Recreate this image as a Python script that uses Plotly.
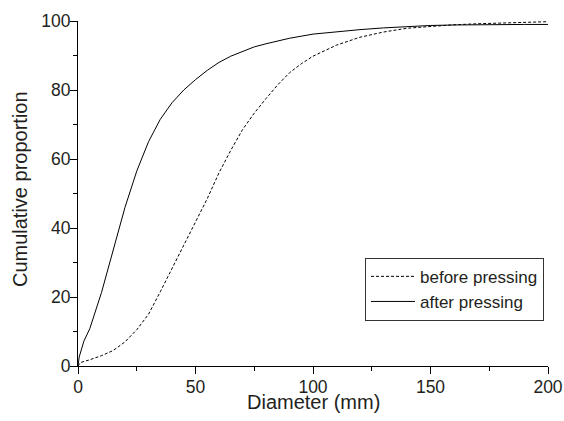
import plotly.graph_objects as go

diameter_before = [0, 1, 5, 10, 15, 20, 25, 30, 35, 40, 45, 50, 55, 60, 65, 70, 75, 80, 85, 90, 95, 100,
                   110, 120, 130, 140, 150, 160, 170, 180, 190, 200]
before_pressing = [0, 1.0, 1.8, 3.0, 4.5, 7.0, 10.5, 15.0, 21.5, 28.3, 34.8, 41.5, 48.5, 56.0, 62.5, 68.5,
                   73.3, 77.5, 81.5, 85.0, 87.6, 89.8, 93.0, 95.3, 96.8, 97.9, 98.5, 98.9, 99.2, 99.4, 99.6, 99.8]

diameter_after = [0, 0.5, 2.5, 5, 10, 15, 20, 25, 30, 35, 40, 45, 50, 55, 60, 65, 70, 75, 80, 90, 100,
                  110, 120, 130, 140, 150, 160, 170, 180, 190, 200]
after_pressing = [0, 2.6, 7.2, 10.8, 21.3, 33.3, 46.0, 56.5, 65.0, 71.5, 76.3, 80.0, 83.0, 85.7, 88.0,
                  89.8, 91.2, 92.5, 93.4, 95.0, 96.2, 96.9, 97.5, 98.0, 98.4, 98.7, 98.85, 98.95, 99.0, 99.0, 99.0]

x_title = "Diameter (mm)"
y_title = "Cumulative proportion"

font_family = "Liberation Sans, Arial, sans-serif"
text_color = "#231f20"

fig_w, fig_h = 564, 421
plot_left, plot_right, plot_top, plot_bottom = 77.5, 548, 20.7, 365.7
pw = plot_right - plot_left
ph = plot_bottom - plot_top

fig = go.Figure()
fig.add_trace(go.Scatter(x=diameter_before, y=before_pressing, mode="lines", name="before pressing",
                         line=dict(color="black", width=1, dash="3px,2px")))
fig.add_trace(go.Scatter(x=diameter_after, y=after_pressing, mode="lines", name="after pressing",
                         line=dict(color="black", width=1)))

axis_common = dict(
    showline=True, linecolor="black", linewidth=1.2,
    ticks="outside", ticklen=7, tickwidth=1, tickcolor="black",
    showgrid=False, zeroline=False, mirror=False, automargin=False,
    ticklabeloverflow="allow",
    tickfont=dict(size=17.5, color=text_color, family=font_family),
)

fig.update_xaxes(range=[0, 200], tickvals=[0, 50, 100, 150, 200], ticklabelstandoff=-2,
                 minor=dict(tickvals=[25, 75, 125, 175], ticklen=4, ticks="outside", tickcolor="black", tickwidth=1),
                 **axis_common)
fig.update_yaxes(range=[0, 100], tickvals=[0, 20, 40, 60, 80, 100], ticklabelstandoff=-4,
                 minor=dict(tickvals=[10, 30, 50, 70, 90], ticklen=4, ticks="outside", tickcolor="black", tickwidth=1),
                 **axis_common)

fig.add_annotation(text=x_title, xref="paper", yref="paper", x=0.5, y=(plot_bottom - 402) / ph,
                   xanchor="center", yanchor="middle", showarrow=False,
                   font=dict(size=20, color=text_color, family=font_family))
fig.add_annotation(text=y_title, xref="paper", yref="paper", x=(19 - plot_left) / pw, y=0.5 + 4 / ph,
                   xanchor="center", yanchor="middle", showarrow=False, textangle=-90,
                   font=dict(size=20, color=text_color, family=font_family))

fig.update_layout(
    width=fig_w, height=fig_h,
    margin=dict(l=plot_left, r=fig_w - plot_right, t=plot_top, b=fig_h - plot_bottom, autoexpand=False),
    paper_bgcolor="white", plot_bgcolor="white",
    font=dict(family=font_family, color=text_color),
    showlegend=True,
    legend=dict(x=(544 - plot_left) / pw, y=(plot_bottom - 289) / ph,
                xanchor="right", yanchor="middle",
                bgcolor="white", bordercolor="#333333", borderwidth=1,
                font=dict(size=17, color=text_color, family=font_family),
                tracegroupgap=0, itemwidth=44),
)

page_fix = ("document.body.style.margin='0';"
            "document.body.style.overflow='hidden';"
            "document.documentElement.style.overflow='hidden';")

fig.write_html("out.html", post_script=page_fix, config={"displayModeBar": False})
